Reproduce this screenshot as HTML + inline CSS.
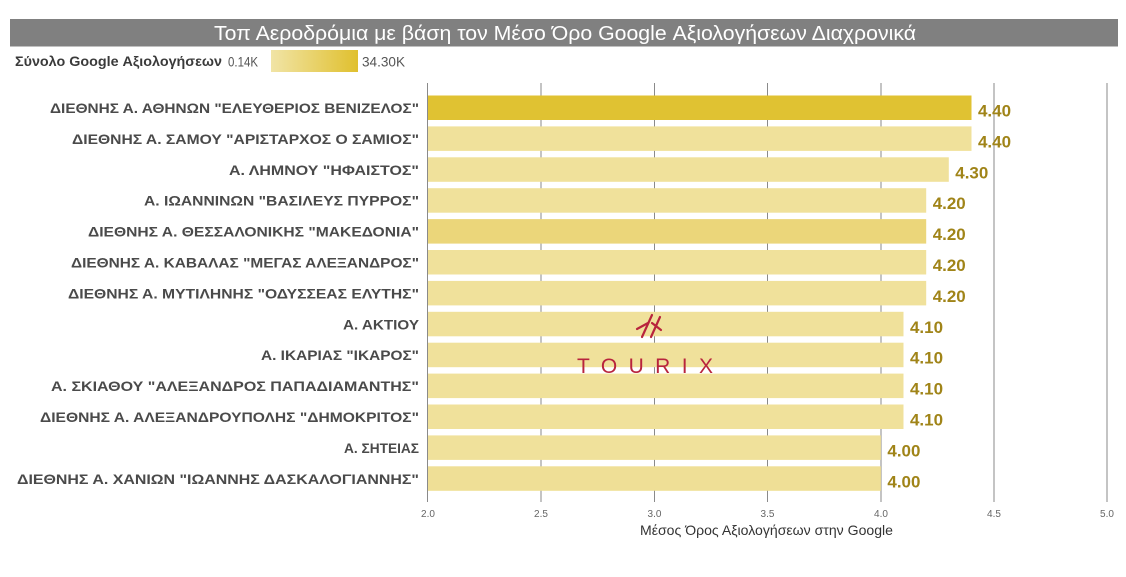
<!DOCTYPE html>
<html>
<head>
<meta charset="utf-8">
<style>
  html,body{margin:0;padding:0;background:#fff;}
  svg{display:block;}
</style>
</head>
<body>
<svg width="1126" height="577" viewBox="0 0 1126 577" xmlns="http://www.w3.org/2000/svg">
  <defs>
    <linearGradient id="lg" x1="0" x2="1" y1="0" y2="0">
      <stop offset="0" stop-color="#f1e4a6"/>
      <stop offset="1" stop-color="#e0c02e"/>
    </linearGradient>
  </defs>
  <rect x="0" y="0" width="1126" height="577" fill="#ffffff"/>

  <!-- Title -->
  <rect x="10" y="19" width="1108" height="27.5" fill="#808080"/>
  <text x="214" y="40" font-family="Liberation Sans, sans-serif" font-size="20" fill="#ffffff" textLength="702" lengthAdjust="spacingAndGlyphs">Τοπ Αεροδρόμια με βάση τον Μέσο Όρο Google Αξιολογήσεων Διαχρονικά</text>

  <!-- Legend -->
  <text x="15" y="66" font-family="Liberation Sans, sans-serif" font-size="13.5" font-weight="bold" fill="#3a3a3a" textLength="207" lengthAdjust="spacingAndGlyphs">Σύνολο Google Αξιολογήσεων</text>
  <text x="228" y="66.5" font-family="Liberation Sans, sans-serif" font-size="14" fill="#555" textLength="30" lengthAdjust="spacingAndGlyphs">0.14K</text>
  <rect x="271" y="50" width="87" height="22" fill="url(#lg)"/>
  <text x="362" y="66.5" font-family="Liberation Sans, sans-serif" font-size="14" fill="#555" textLength="43" lengthAdjust="spacingAndGlyphs">34.30K</text>

  <!-- Gridlines -->
  <g stroke="#8a8a8a" stroke-width="1">
    <line x1="427.5" y1="83" x2="427.5" y2="502"/>
    <line x1="541" y1="83" x2="541" y2="502"/>
    <line x1="654.5" y1="83" x2="654.5" y2="502"/>
    <line x1="767.5" y1="83" x2="767.5" y2="502"/>
    <line x1="881" y1="83" x2="881" y2="502"/>
    <line x1="994" y1="83" x2="994" y2="502"/>
    <line x1="1107" y1="83" x2="1107" y2="502"/>
  </g>

  <!-- Bars -->
  <g>
    <rect x="428" y="95.5" width="543.5" height="24.5" fill="#e0c232"/>
    <rect x="428" y="126.4" width="543.5" height="24.5" fill="#f0e19b"/>
    <rect x="428" y="157.3" width="520.8" height="24.5" fill="#f0e19b"/>
    <rect x="428" y="188.2" width="498.2" height="24.5" fill="#f0e19b"/>
    <rect x="428" y="219.1" width="498.2" height="24.5" fill="#ebd67a"/>
    <rect x="428" y="250.0" width="498.2" height="24.5" fill="#f0e19b"/>
    <rect x="428" y="280.9" width="498.2" height="24.5" fill="#f0e19b"/>
    <rect x="428" y="311.8" width="475.5" height="24.5" fill="#f0e19b"/>
    <rect x="428" y="342.7" width="475.5" height="24.5" fill="#f0e19b"/>
    <rect x="428" y="373.6" width="475.5" height="24.5" fill="#f0e19b"/>
    <rect x="428" y="404.5" width="475.5" height="24.5" fill="#f0e19b"/>
    <rect x="428" y="435.4" width="452.9" height="24.5" fill="#f0e19b"/>
    <rect x="428" y="466.3" width="452.9" height="24.5" fill="#efdf96"/>
  </g>

  <!-- Category labels -->
  <g font-family="Liberation Sans, sans-serif" font-size="14" font-weight="bold" fill="#4a4a4a" text-anchor="end">
    <text x="419" y="113" textLength="369" lengthAdjust="spacingAndGlyphs">ΔΙΕΘΝΗΣ Α. ΑΘΗΝΩΝ "ΕΛΕΥΘΕΡΙΟΣ ΒΕΝΙΖΕΛΟΣ"</text>
    <text x="419" y="143.9" textLength="347" lengthAdjust="spacingAndGlyphs">ΔΙΕΘΝΗΣ Α. ΣΑΜΟΥ "ΑΡΙΣΤΑΡΧΟΣ Ο ΣΑΜΙΟΣ"</text>
    <text x="419" y="174.8" textLength="190" lengthAdjust="spacingAndGlyphs">Α. ΛΗΜΝΟΥ "ΗΦΑΙΣΤΟΣ"</text>
    <text x="419" y="205.7" textLength="275" lengthAdjust="spacingAndGlyphs">Α. ΙΩΑΝΝΙΝΩΝ "ΒΑΣΙΛΕΥΣ ΠΥΡΡΟΣ"</text>
    <text x="419" y="236.6" textLength="331" lengthAdjust="spacingAndGlyphs">ΔΙΕΘΝΗΣ Α. ΘΕΣΣΑΛΟΝΙΚΗΣ "ΜΑΚΕΔΟΝΙΑ"</text>
    <text x="419" y="267.5" textLength="348" lengthAdjust="spacingAndGlyphs">ΔΙΕΘΝΗΣ Α. ΚΑΒΑΛΑΣ "ΜΕΓΑΣ ΑΛΕΞΑΝΔΡΟΣ"</text>
    <text x="419" y="298.4" textLength="351" lengthAdjust="spacingAndGlyphs">ΔΙΕΘΝΗΣ Α. ΜΥΤΙΛΗΝΗΣ "ΟΔΥΣΣΕΑΣ ΕΛΥΤΗΣ"</text>
    <text x="419" y="329.3" textLength="76" lengthAdjust="spacingAndGlyphs">Α. ΑΚΤΙΟΥ</text>
    <text x="419" y="360.2" textLength="158" lengthAdjust="spacingAndGlyphs">Α. ΙΚΑΡΙΑΣ "ΙΚΑΡΟΣ"</text>
    <text x="419" y="391.1" textLength="368" lengthAdjust="spacingAndGlyphs">Α. ΣΚΙΑΘΟΥ "ΑΛΕΞΑΝΔΡΟΣ ΠΑΠΑΔΙΑΜΑΝΤΗΣ"</text>
    <text x="419" y="422" textLength="379" lengthAdjust="spacingAndGlyphs">ΔΙΕΘΝΗΣ Α. ΑΛΕΞΑΝΔΡΟΥΠΟΛΗΣ "ΔΗΜΟΚΡΙΤΟΣ"</text>
    <text x="419" y="452.9" textLength="75" lengthAdjust="spacingAndGlyphs">Α. ΣΗΤΕΙΑΣ</text>
    <text x="419" y="483.8" textLength="402" lengthAdjust="spacingAndGlyphs">ΔΙΕΘΝΗΣ Α. ΧΑΝΙΩΝ "ΙΩΑΝΝΗΣ ΔΑΣΚΑΛΟΓΙΑΝΝΗΣ"</text>
  </g>

  <!-- Value labels -->
  <g font-family="Liberation Sans, sans-serif" font-size="17" font-weight="bold" fill="#a08418">
    <text x="978" y="116.5" textLength="33" lengthAdjust="spacingAndGlyphs">4.40</text>
    <text x="978" y="147.4" textLength="33" lengthAdjust="spacingAndGlyphs">4.40</text>
    <text x="955.3" y="178.3" textLength="33" lengthAdjust="spacingAndGlyphs">4.30</text>
    <text x="932.7" y="209.2" textLength="33" lengthAdjust="spacingAndGlyphs">4.20</text>
    <text x="932.7" y="240.1" textLength="33" lengthAdjust="spacingAndGlyphs">4.20</text>
    <text x="932.7" y="271" textLength="33" lengthAdjust="spacingAndGlyphs">4.20</text>
    <text x="932.7" y="301.9" textLength="33" lengthAdjust="spacingAndGlyphs">4.20</text>
    <text x="910" y="332.8" textLength="33" lengthAdjust="spacingAndGlyphs">4.10</text>
    <text x="910" y="363.7" textLength="33" lengthAdjust="spacingAndGlyphs">4.10</text>
    <text x="910" y="394.6" textLength="33" lengthAdjust="spacingAndGlyphs">4.10</text>
    <text x="910" y="425.5" textLength="33" lengthAdjust="spacingAndGlyphs">4.10</text>
    <text x="887.4" y="456.4" textLength="33" lengthAdjust="spacingAndGlyphs">4.00</text>
    <text x="887.4" y="487.3" textLength="33" lengthAdjust="spacingAndGlyphs">4.00</text>
  </g>

  <!-- Watermark logo -->
  <g stroke="#b8243d" stroke-width="2.2" stroke-linecap="round" fill="none">
    <line x1="652" y1="315" x2="642" y2="337"/>
    <line x1="660" y1="317" x2="651" y2="337"/>
    <line x1="637" y1="329" x2="648" y2="323"/>
    <line x1="652" y1="323" x2="661" y2="330"/>
  </g>
  <text x="577" y="373" font-family="Liberation Sans, sans-serif" font-size="21" fill="#b8243d" textLength="146" lengthAdjust="spacing" letter-spacing="10">TOURIX</text>

  <!-- Tick labels -->
  <g font-family="Liberation Sans, sans-serif" font-size="10" fill="#666" text-anchor="middle">
    <text x="428" y="517">2.0</text>
    <text x="541" y="517">2.5</text>
    <text x="654.5" y="517">3.0</text>
    <text x="767.5" y="517">3.5</text>
    <text x="881" y="517">4.0</text>
    <text x="994" y="517">4.5</text>
    <text x="1107" y="517">5.0</text>
  </g>

  <!-- Axis title -->
  <text x="640" y="535" font-family="Liberation Sans, sans-serif" font-size="14" fill="#333" textLength="253" lengthAdjust="spacingAndGlyphs">Μέσος Όρος Αξιολογήσεων στην Google</text>
</svg>
</body>
</html>
